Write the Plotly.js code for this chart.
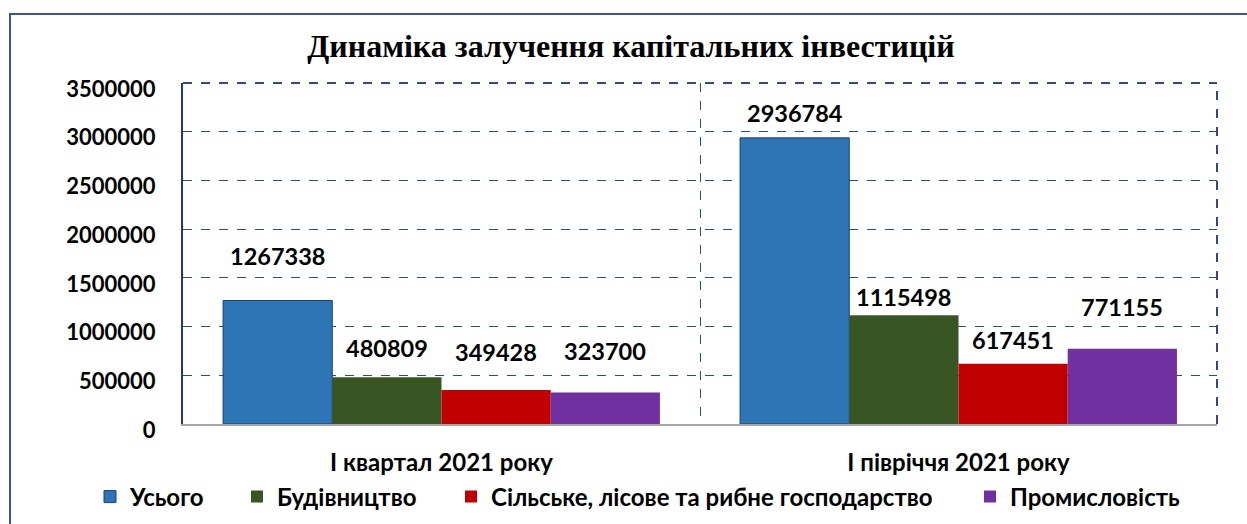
<!DOCTYPE html>
<html>
<head>
<meta charset="utf-8">
<script src="https://cdn.plot.ly/plotly-3.0.1.min.js"></script>
<style>
  html, body { margin: 0; padding: 0; background: #ffffff; overflow: hidden; }
  #frame { position: absolute; left: 9px; top: 13px; width: 1300px; height: 600px;
           border: 2px solid #3a5590; box-sizing: border-box; }
  #chart { position: absolute; left: 0; top: 0; width: 1247px; height: 524px; }
</style>
</head>
<body>
<div id="frame"></div>
<div id="chart"></div>
<script>
// ---- data ----
const categories = ["І квартал 2021 року", "І півріччя 2021 року"];
const seriesNames = ["Усього", "Будівництво", "Сільське, лісове та рибне господарство", "Промисловість"];
const totalValues = [1267338, 2936784];
const constructionValues = [480809, 1115498];
const agricultureValues = [349428, 617451];
const industryValues = [323700, 771155];
const yTickValues = [0, 500000, 1000000, 1500000, 2000000, 2500000, 3000000, 3500000];

// ---- style ----
const colors = ["#2E75B6", "#375623", "#C00000", "#7030A0"];
const lineColors = ["#1F3F77", "rgba(0,0,0,0)", "rgba(0,0,0,0)", "rgba(0,0,0,0)"];
const legendWidths = [102, 169, 474, 170];
const labelShift = [[45, 25], [29, 18], [38, 24], [41, 42]]; // px above bar top, per series per category
const bargap = 0.155;
const fontFam = "Lato, 'Open Sans', sans-serif";
const frameColor = "#2F4A85";

const allValues = [totalValues, constructionValues, agricultureValues, industryValues];

const traces = allValues.map((vals, s) => ({
  type: "bar",
  name: seriesNames[s],
  x: categories,
  y: vals,
  legendwidth: legendWidths[s],
  marker: { color: colors[s], line: { color: lineColors[s], width: 1 } },
  hoverinfo: "x+y+name"
}));

const nSeries = allValues.length;
const barW = (1 - bargap) / nSeries;
const annotations = [];
allValues.forEach((vals, s) => {
  vals.forEach((v, c) => {
    annotations.push({
      xref: "x", yref: "y",
      x: c + (s - (nSeries - 1) / 2) * barW,
      y: v,
      text: String(v),
      showarrow: false,
      yanchor: "middle",
      yshift: labelShift[s][c],
      font: { family: fontFam, size: 23.5, color: "#000000", weight: "bold" }
    });
  });
});

const layout = {
  width: 1247, height: 524,
  margin: { l: 183, r: 30, t: 83, b: 100, autoexpand: false },
  paper_bgcolor: "rgba(0,0,0,0)",
  plot_bgcolor: "rgba(0,0,0,0)",
  barmode: "group",
  bargap: bargap,
  bargroupgap: 0,
  showlegend: true,
  title: {
    text: "Динаміка залучення капітальних інвестицій",
    xref: "container", x: 0.506, xanchor: "center",
    yref: "container", y: 1 - 46 / 524, yanchor: "middle",
    font: { family: "'Liberation Serif', 'Times New Roman', serif", size: 32, color: "#000000", weight: "bold" }
  },
  xaxis: {
    type: "category",
    tickson: "boundaries",
    showgrid: true,
    gridcolor: frameColor,
    griddash: "dash",
    gridwidth: 1,
    showline: true,
    linecolor: "#A6A6A6",
    linewidth: 2,
    ticks: "",
    ticklabelstandoff: 16,
    tickfont: { family: fontFam, size: 24, color: "#000000", weight: "bold" },
    fixedrange: true
  },
  yaxis: {
    range: [0, 3500000],
    tickvals: yTickValues,
    tickformat: "d",
    showgrid: true,
    gridcolor: frameColor,
    griddash: "dash",
    gridwidth: 1,
    zeroline: false,
    showline: true,
    linecolor: "#1F3A78",
    linewidth: 2,
    ticks: "",
    ticklabelstandoff: 21,
    ticklabelshift: 6,
    tickfont: { family: fontFam, size: 22, color: "#000000", weight: "bold" },
    fixedrange: true
  },
  shapes: [
    { type: "line", xref: "paper", yref: "paper", x0: 0, x1: 1, y0: 1, y1: 1,
      line: { color: frameColor, width: 2, dash: "dash" } },
    { type: "line", xref: "paper", yref: "paper", x0: 1, x1: 1, y0: 0, y1: 1,
      line: { color: frameColor, width: 2, dash: "dash" } }
  ],
  legend: {
    orientation: "h",
    xref: "paper", x: (90 - 183) / 1034, xanchor: "left",
    yref: "paper", y: (424 - 497) / 341, yanchor: "middle",
    font: { family: fontFam, size: 24, color: "#000000", weight: "bold" },
    itemwidth: 30,
    tracegroupgap: 0
  },
  annotations: annotations
};

Plotly.newPlot("chart", traces, layout, { displayModeBar: false, staticPlot: true });
</script>
</body>
</html>
